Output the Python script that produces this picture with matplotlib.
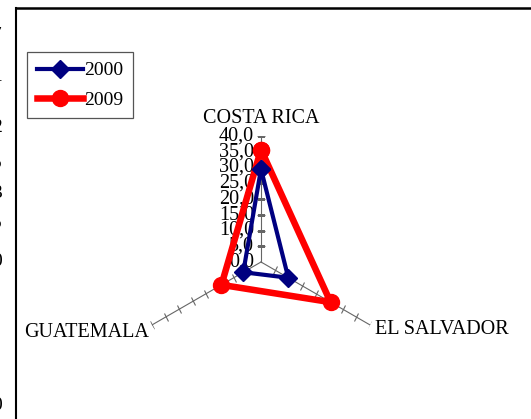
import numpy as np
import matplotlib
matplotlib.use("Agg")
import matplotlib.pyplot as plt
from matplotlib.markers import MarkerStyle
from matplotlib.transforms import Affine2D, offset_copy
from matplotlib.lines import Line2D

categories = ["COSTA RICA", "EL SALVADOR", "GUATEMALA"]
series_names = ["2000", "2009"]
values_2000 = [29.5, 10.0, 6.5]
values_2009 = [35.7, 25.5, 14.5]
r_ticks = [0, 5, 10, 15, 20, 25, 30, 35, 40]
tick_labels = ["0,0", "5,0", "10,0", "15,0", "20,0", "25,0", "30,0", "35,0", "40,0"]

plt.rcParams['font.family'] = ['Liberation Serif', 'DejaVu Serif']

W, H = 531, 419
fig = plt.figure(figsize=(W / 100, H / 100), dpi=100)

# frame (partial, as in reference)
fig.add_artist(Line2D([16 / W, 1.0], [1 - 8 / H, 1 - 8 / H], color='black', lw=1.8, transform=fig.transFigure))
fig.add_artist(Line2D([16 / W, 16 / W], [1 - 8 / H, 0.0], color='black', lw=1.5, transform=fig.transFigure))

# cut-off glyphs at the very left edge
for ch, yy in [("7", 35), ("4", 80), ("2", 128), ("5", 163), ("3", 193), ("5", 223),
               ("0", 262), ("-", 315), ("-", 337), ("-", 360), ("0", 405)]:
    fig.text(-8 / W, 1 - yy / H, ch, fontsize=14, ha='left', va='center', color='black')

cx, cy, R = 261, 262, 126
ax = fig.add_axes([(cx - R) / W, 1 - (cy + R) / H, 2 * R / W, 2 * R / H], projection='polar')
ax.set_theta_offset(np.pi / 2)
ax.set_theta_direction(-1)
ax.set_ylim(0, 40)
ax.grid(False)
ax.set_xticks([])
ax.set_yticks([])
ax.spines['polar'].set_visible(False)
ax.patch.set_alpha(0)

theta = np.arange(len(categories)) * 2 * np.pi / len(categories)
spoke_col = '#666666'
for th in theta:
    ax.plot([th, th], [0, 40], color=spoke_col, lw=0.8, zorder=1)
    screen_ang = 90 - np.degrees(th)
    mk = MarkerStyle('|', transform=Affine2D().rotate_deg(screen_ang))
    ax.plot([th] * (len(r_ticks) - 1), r_ticks[1:], linestyle='none', marker=mk,
            markersize=6, markeredgewidth=0.8, color=spoke_col, zorder=1)

# radial tick labels along the top spoke
lab_tr = offset_copy(ax.transData, fig=fig, x=-7, y=0, units='dots')
for r, lab in zip(r_ticks, tick_labels):
    ax.text(0, r, lab, transform=lab_tr, ha='right', va='center', fontsize=14.5, zorder=2)

# category labels
offsets = [(0, 18, 'center', 'center'), (5, -4, 'left', 'center'), (-3, -7, 'right', 'center')]
for th, cat, (dx, dy, ha, va) in zip(theta, categories, offsets):
    tr = offset_copy(ax.transData, fig=fig, x=dx, y=dy, units='dots')
    ax.text(th, 40, cat, transform=tr, ha=ha, va=va, fontsize=14.5)

th_closed = np.append(theta, theta[0])
v0 = np.append(values_2000, values_2000[0])
v9 = np.append(values_2009, values_2009[0])
l9, = ax.plot(th_closed, v9, color='#ff0000', lw=4.7, marker='o', markersize=11.5,
              solid_joinstyle='miter', label=series_names[1], zorder=3)
l0, = ax.plot(th_closed, v0, color='#000080', lw=3.0, marker='D', markersize=9.5,
              solid_joinstyle='miter', label=series_names[0], zorder=4)

leg = fig.legend(handles=[l0, l9], labels=series_names, loc='upper left',
                 bbox_to_anchor=(27 / W, 1 - 52 / H), borderaxespad=0,
                 fancybox=False, edgecolor='#555555', framealpha=1,
                 fontsize=14, handlelength=2.4, handletextpad=0.05,
                 labelspacing=0.6, borderpad=0.5)
leg.get_frame().set_linewidth(0.9)

fig.savefig("out.png", dpi=100)
